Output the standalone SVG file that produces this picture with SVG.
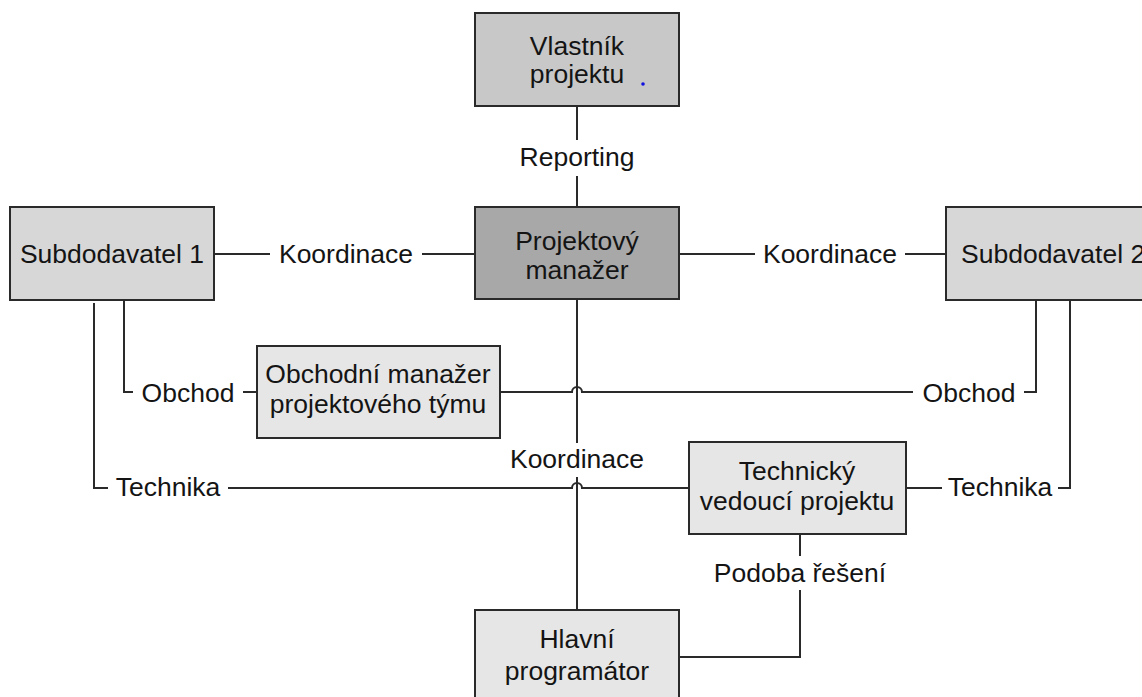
<svg xmlns="http://www.w3.org/2000/svg" width="1142" height="697" viewBox="0 0 1142 697">
<style>
.box{stroke:#2a2a2a;stroke-width:2}
.c{fill:none;stroke:#2a2a2a;stroke-width:2}
text{font-family:"Liberation Sans",Arial,sans-serif;font-size:26.5px;fill:#141414}
.m{text-anchor:middle}
</style>
<rect width="1142" height="697" fill="#ffffff"/>
<g id="connectors">
<path class="c" d="M577 106V140M577 176V207"/>
<path class="c" d="M214 254H270M422 254H475"/>
<path class="c" d="M679 254H755M905 254H946"/>
<path class="c" d="M577 299V443M577 477V610"/>
<path class="c" d="M124 301V392H133M243 392H257"/>
<path class="c" d="M500 392H572A5 5 0 0 1 582 392H913M1024 392H1036V301"/>
<path class="c" d="M94 303V488H108M228 488H572A5 5 0 0 1 582 488H689"/>
<path class="c" d="M906 488H942M1058 488H1070V301"/>
<path class="c" d="M800 534V556M800 590V657H679"/>
</g>
<g id="labels">
<text class="m" x="577" y="166">Reporting</text>
<text class="m" x="346" y="263">Koordinace</text>
<text class="m" x="830" y="263">Koordinace</text>
<text class="m" x="188" y="402">Obchod</text>
<text class="m" x="969" y="402">Obchod</text>
<text class="m" x="168" y="496">Technika</text>
<text class="m" x="1000" y="496">Technika</text>
<text class="m" x="577" y="468">Koordinace</text>
<text class="m" x="800" y="582">Podoba řešení</text>
</g>
<g id="vlastnik">
<rect class="box" x="475" y="13" width="204" height="93" fill="#c8c8c8"/>
<text class="m" x="577" y="55">Vlastník</text>
<text class="m" x="577" y="83">projektu</text>
<circle cx="643" cy="84" r="1.8" fill="#1010e0"/>
</g>
<g id="projektovy">
<rect class="box" x="475" y="207" width="204" height="92" fill="#a8a8a8"/>
<text class="m" x="577" y="250">Projektový</text>
<text class="m" x="577" y="279">manažer</text>
</g>
<g id="sub1">
<rect class="box" x="10" y="207" width="204" height="93" fill="#d7d7d7"/>
<text class="m" x="112" y="263">Subdodavatel 1</text>
</g>
<g id="sub2">
<rect class="box" x="946" y="207" width="210" height="93" fill="#d7d7d7"/>
<text x="961" y="263">Subdodavatel 2</text>
</g>
<g id="obchodni">
<rect class="box" x="257" y="346" width="243" height="92" fill="#e6e6e6"/>
<text class="m" x="378" y="383">Obchodní manažer</text>
<text class="m" x="378" y="413">projektového týmu</text>
</g>
<g id="technicky">
<rect class="box" x="689" y="442" width="217" height="92" fill="#e6e6e6"/>
<text class="m" x="797" y="480">Technický</text>
<text class="m" x="797" y="510">vedoucí projektu</text>
</g>
<g id="hlavni">
<rect class="box" x="475" y="610" width="204" height="100" fill="#e6e6e6"/>
<text class="m" x="577" y="648">Hlavní</text>
<text class="m" x="577" y="680">programátor</text>
</g>
</svg>
